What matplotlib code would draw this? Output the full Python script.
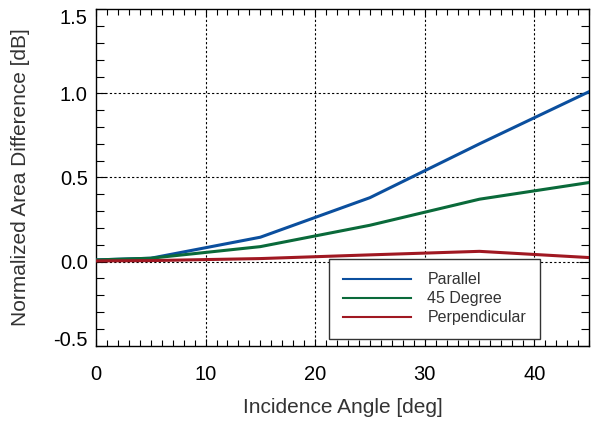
import numpy as np
import matplotlib
matplotlib.use('Agg')
import matplotlib.pyplot as plt
from matplotlib.lines import Line2D
from matplotlib.ticker import MultipleLocator

plt.rcParams['font.family'] = ['Liberation Sans', 'DejaVu Sans']

# data
angle = [0, 5, 15, 25, 35, 45]
parallel = [0.01, 0.02, 0.145, 0.38, 0.70, 1.01]
deg45 = [0.01, 0.02, 0.089, 0.216, 0.371, 0.47]
perpendicular = [0.004, 0.006, 0.018, 0.040, 0.061, 0.024]

series_names = ['Parallel', '45 Degree', 'Perpendicular']
series_colors = ['#0b4f9e', '#0a6a3a', '#a01822']

x_ticks = [0, 10, 20, 30, 40]
y_ticks = [-0.5, 0.0, 0.5, 1.0, 1.5]

fig = plt.figure(figsize=(5.96, 4.26), dpi=100)
ax = fig.add_axes([96/596, 1 - 345.7/426, 493/596, 336.4/426])

for ys, c in zip([parallel, deg45, perpendicular], series_colors):
    ax.plot(angle, ys, color=c, lw=2.2, solid_joinstyle='round', zorder=3)

ax.set_xlim(0, 45)
ax.set_ylim(-0.5, 1.5)
ax.set_xticks(x_ticks)
ax.set_yticks(y_ticks)
ax.set_yticklabels([f'{v:.1f}' for v in y_ticks])
ax.xaxis.set_minor_locator(MultipleLocator(1))
ax.yaxis.set_minor_locator(MultipleLocator(0.1))

# dotted grid at the inner major ticks
for xv in x_ticks[1:]:
    ax.axvline(xv, color='black', lw=0.8, ls=(0, (2, 2)), zorder=1)
for yv in y_ticks[1:-1]:
    ax.axhline(yv, color='black', lw=0.8, ls=(0, (2, 2)), zorder=1)

ax.tick_params(which='both', direction='in', top=True, right=True, colors='black', width=0.8)
ax.tick_params(axis='x', which='major', length=5, pad=14, labelsize=14.5)
ax.tick_params(axis='x', which='minor', length=4)
ax.tick_params(axis='y', which='major', length=7, pad=6, labelsize=14.5)
ax.tick_params(axis='y', which='minor', length=5.5)
for sp in ax.spines.values():
    sp.set_linewidth(1.0)

# end labels pulled inward like the original
ylabs = ax.get_yticklabels()
ylabs[0].set_va('baseline')
ylabs[-1].set_va('top')

ax.set_xlabel('Incidence Angle [deg]', fontsize=15, color='#333333')
ax.set_ylabel('Normalized Area Difference [dB]', fontsize=15, color='#333333')
ax.xaxis.set_label_coords(0.5, -0.155)
ax.yaxis.set_label_coords(-0.134, 0.5)

handles = [Line2D([], [], color=c, lw=1.5) for c in series_colors]
leg = ax.legend(handles, series_names, loc='upper left', bbox_to_anchor=(0.473, 0.258),
                fontsize=11.5, frameon=True, fancybox=False, handlelength=4.3,
                handletextpad=1.0, borderpad=0.85, labelspacing=0.25, borderaxespad=0)
leg.get_frame().set_edgecolor('#333333')
leg.get_frame().set_linewidth(1.0)
leg.get_frame().set_facecolor('white')
leg.get_frame().set_alpha(1)
for t in leg.get_texts():
    t.set_color('#333333')
leg.set_zorder(5)

fig.savefig('out.png', dpi=100)
